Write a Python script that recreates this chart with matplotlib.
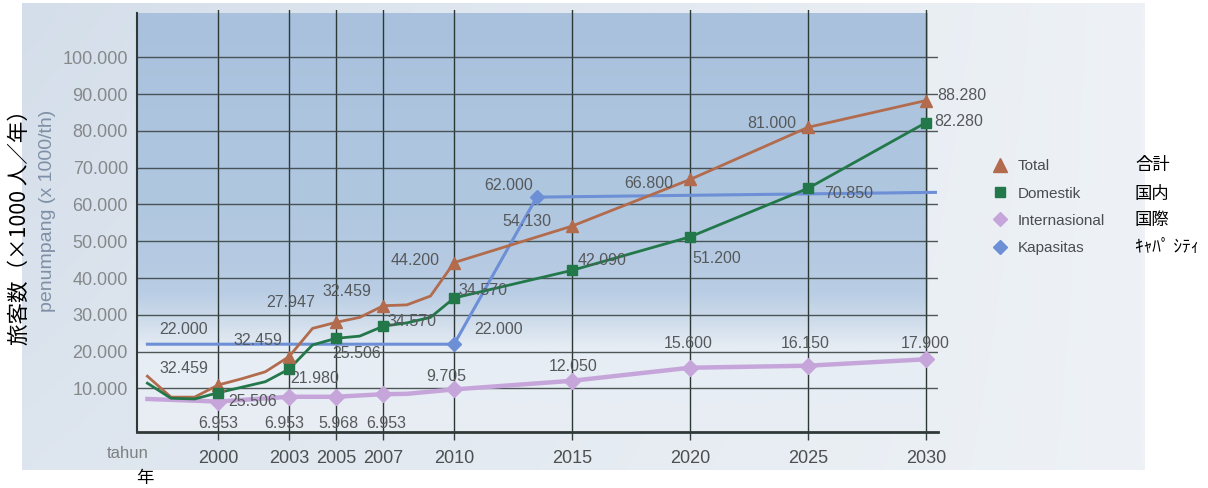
import numpy as np
import matplotlib.pyplot as plt
from matplotlib.colors import to_rgb
from matplotlib.lines import Line2D

plt.rcParams['font.family'] = ['Liberation Sans', 'DejaVu Sans']
JP = ['Noto Sans CJK JP', 'DejaVu Sans']

# passengers per year, x 1000
years = [1997, 1998, 1999, 2000, 2001, 2002, 2003, 2004, 2005, 2006,
         2007, 2008, 2009, 2010, 2015, 2020, 2025, 2030]
total = [13.3, 7.6, 7.6, 10.9, 12.6, 14.5, 18.6, 26.3, 27.947, 29.3,
         32.459, 32.7, 35.1, 44.2, 54.13, 66.8, 81.0, 88.28]
domestik = [11.4, 7.3, 7.1, 8.8, 10.3, 11.8, 15.2, 21.8, 23.6, 24.2,
            26.9, 27.8, 29.3, 34.57, 42.09, 51.2, 64.4, 82.28]

intl_years = [1997, 2000, 2003, 2005, 2007, 2008, 2010, 2015, 2020, 2025, 2030]
internasional = [7.1, 6.4, 7.7, 7.7, 8.4, 8.5, 9.705, 12.05, 15.6, 16.15, 17.9]

kap_years = [1997, 2010, 2013.5, 2030.4]
kapasitas = [22.0, 22.0, 62.0, 63.3]

marked_years = [2000, 2003, 2005, 2007, 2010, 2015, 2020, 2025, 2030]
kap_marked = [2010, 2013.5]

yticks = [10, 20, 30, 40, 50, 60, 70, 80, 90, 100]

# value labels printed on the chart: (text, year, value)
labels = [
    ('32.459', 1998.55, 15.4), ('22.000', 1998.55, 25.9), ('32.459', 2001.7, 23.1),
    ('27.947', 2003.08, 33.3), ('32.459', 2005.47, 36.3), ('44.200', 2008.34, 44.9),
    ('25.506', 2001.48, 6.4), ('6.953', 2000.0, 0.5), ('6.953', 2002.79, 0.5),
    ('5.968', 2005.09, 0.5), ('6.953', 2007.14, 0.5), ('21.980', 2004.1, 12.7),
    ('25.506', 2005.87, 19.5), ('34.570', 2008.2, 28.1), ('9.705', 2009.68, 13.2),
    ('34.570', 2011.23, 36.7), ('22.000', 2011.87, 25.9), ('12.050', 2015.05, 15.9),
    ('54.130', 2013.07, 55.3), ('62.000', 2012.29, 65.3), ('66.800', 2018.23, 65.7),
    ('42.090', 2016.25, 44.9), ('51.200', 2021.13, 45.3), ('15.600', 2019.92, 22.2),
    ('16.150', 2024.87, 22.2), ('17.900', 2029.96, 22.2), ('70.850', 2026.71, 63.0),
    ('81.000', 2023.46, 81.9), ('88.280', 2031.51, 89.7), ('82.280', 2031.37, 82.5),
]

c_total = '#b26b4d'
c_dom = '#23784a'
c_int = '#c6a6da'
c_kap = '#6c8fd6'

W, H = 1208, 488
fig = plt.figure(figsize=(W / 100, H / 100), dpi=100)
fig.patch.set_facecolor('white')

# scanned panel tint behind the whole chart
bg = fig.add_axes([0, 0, 1, 1])
bg.set_zorder(0)
bg.axis('off')
bg.set_xlim(0, W)
bg.set_ylim(H, 0)
gx = np.linspace(0, 1, 200)[None, :, None]
gy = np.linspace(0, 1, 100)[:, None, None]
left_c = np.array(to_rgb('#d4deea'))
right_c = np.array(to_rgb('#eef2f6'))
panel = left_c * (1 - gx) + right_c * gx
panel = panel * (1 - 0.35 * gy) + np.array(to_rgb('#eef2f6')) * 0.35 * gy
bg.imshow(panel, extent=[22, 1145, 470, 3], aspect='auto', interpolation='bilinear')

ax = fig.add_axes([137 / W, 56.3 / H, 800.8 / W, 421.7 / H])
ax.set_zorder(1)
ax.set_facecolor('none')

# plot area gradient: blue at the top, fading to pale near the bottom
x0, x1 = 1996.56, 2030.5
y0, y1 = -1.8, 112.9
lev = np.linspace(y0, 112.0, 300)
stops_v = [y0, 21, 27, 36, 60, 112]
stops_c = ['#e9eef4', '#e6edf4', '#d3dfec', '#b9cde4', '#b0c7e0', '#a9c1dd']
rgb = np.array([to_rgb(c) for c in stops_c])
col = np.stack([np.interp(lev, stops_v, rgb[:, k]) for k in range(3)], axis=1)
ax.imshow(col[:, None, :], extent=[x0, 2030.05, y0, 112.0], origin='lower',
          aspect='auto', interpolation='bilinear', zorder=0)

ax.plot(intl_years, internasional, color=c_int, lw=3.2, zorder=3)
ax.plot(kap_years, kapasitas, color=c_kap, lw=2.2, zorder=4)
ax.plot(years, total, color=c_total, lw=2.0, zorder=5)
ax.plot(years, domestik, color=c_dom, lw=2.0, zorder=6)

mk = [years.index(y) for y in marked_years]
ax.plot(marked_years, [total[i] for i in mk], ls='none', marker='^', ms=8,
        color=c_total, zorder=7)
ax.plot(marked_years, [domestik[i] for i in mk], ls='none', marker='s', ms=7,
        color=c_dom, zorder=8)
mi = [intl_years.index(y) for y in marked_years]
ax.plot(marked_years, [internasional[i] for i in mi], ls='none', marker='D', ms=8,
        color=c_int, zorder=7)
mkap = [kap_years.index(y) for y in kap_marked]
ax.plot(kap_marked, [kapasitas[i] for i in mkap], ls='none', marker='D', ms=7,
        color=c_kap, zorder=7)

for txt, xv, yv in labels:
    ax.text(xv, yv, txt, fontsize=11.5, color='#56595b', ha='center', va='center',
            zorder=9)

ax.set_xlim(x0, x1)
ax.set_ylim(y0, y1)
ax.set_xticks(marked_years)
ax.set_xticklabels([str(y) for y in marked_years], fontsize=13, color='#4b4f50')
ax.set_yticks(yticks)
ax.set_yticklabels([f'{v}.000' for v in yticks], fontsize=13, color='#85898a')
ax.tick_params(axis='x', direction='out', length=6, width=1, color='#33403e', pad=7)
ax.tick_params(axis='y', length=0, pad=6.5)
ax.grid(axis='x', color='#2c3836', lw=1.0, zorder=1)
ax.grid(axis='y', color='#3c4747', lw=1.0, alpha=0.9, zorder=1)
for s in ['top', 'right']:
    ax.spines[s].set_visible(False)
ax.spines['left'].set_color('#2f3a38')
ax.spines['left'].set_linewidth(1.5)
ax.spines['bottom'].set_color('#2f3a38')
ax.spines['bottom'].set_linewidth(2.0)
ax.spines['left'].set_bounds(y0, 112.0)

fig.text(127.5 / W, 1 - 453 / H, 'tahun', fontsize=12, color='#7d8183',
         ha='center', va='center')
fig.text(145 / W, 1 - 478 / H, '年', fontsize=12.5, color='black',
         ha='center', va='center', family=JP)
fig.text(48 / W, 1 - 211 / H, 'penumpang (x 1000/th)', fontsize=14,
         color='#7f90a6', rotation=90, ha='center', va='center')
fig.text(20 / W, 1 - 222 / H, '旅客数（×1000 人／年）', fontsize=15.5,
         color='black', rotation=90, ha='center', va='center', family=JP)

handles = [
    Line2D([], [], ls='none', marker='^', ms=10, color=c_total),
    Line2D([], [], ls='none', marker='s', ms=6.5, color=c_dom),
    Line2D([], [], ls='none', marker='D', ms=7, color=c_int),
    Line2D([], [], ls='none', marker='D', ms=7, color=c_kap),
]
leg = fig.legend(handles, ['Total', 'Domestik', 'Internasional', 'Kapasitas'],
                 loc='upper left', bbox_to_anchor=(992.4 / W, 1 - 159.5 / H),
                 frameon=False, fontsize=11, labelcolor='#4a4d50',
                 handlelength=1.0, handletextpad=0.67, labelspacing=0.86,
                 borderpad=0, borderaxespad=0)

jp_rows = [('合計', 165), ('国内', 194), ('国際', 220), ('ｷｬﾊﾟ ｼﾃｨ', 247)]
for txt, py in jp_rows:
    fig.text(1135 / W, 1 - py / H, txt, fontsize=12.5, color='black',
             ha='left', va='center', family=JP)

fig.savefig('out.png', dpi=100)
